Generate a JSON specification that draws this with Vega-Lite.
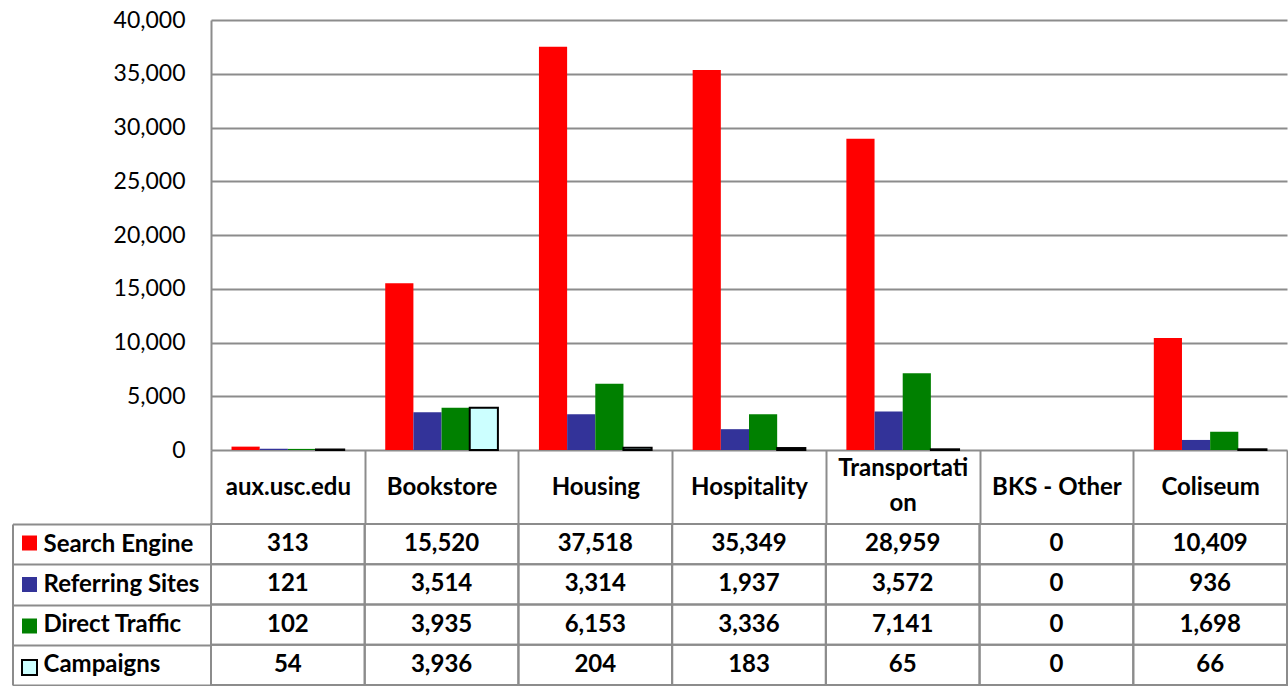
{
  "$schema": "https://vega.github.io/schema/vega-lite/v6.json",
  "padding": {"left": 11, "top": 9, "right": 0, "bottom": 0},
  "background": "white",
  "config": {"font": "Lato", "view": {"stroke": null}},
  "data": {"values": [
    {"category": "aux.usc.edu", "series": "Search Engine", "value": 313},
    {"category": "aux.usc.edu", "series": "Referring Sites", "value": 121},
    {"category": "aux.usc.edu", "series": "Direct Traffic", "value": 102},
    {"category": "aux.usc.edu", "series": "Campaigns", "value": 54},
    {"category": "Bookstore", "series": "Search Engine", "value": 15520},
    {"category": "Bookstore", "series": "Referring Sites", "value": 3514},
    {"category": "Bookstore", "series": "Direct Traffic", "value": 3935},
    {"category": "Bookstore", "series": "Campaigns", "value": 3936},
    {"category": "Housing", "series": "Search Engine", "value": 37518},
    {"category": "Housing", "series": "Referring Sites", "value": 3314},
    {"category": "Housing", "series": "Direct Traffic", "value": 6153},
    {"category": "Housing", "series": "Campaigns", "value": 204},
    {"category": "Hospitality", "series": "Search Engine", "value": 35349},
    {"category": "Hospitality", "series": "Referring Sites", "value": 1937},
    {"category": "Hospitality", "series": "Direct Traffic", "value": 3336},
    {"category": "Hospitality", "series": "Campaigns", "value": 183},
    {"category": "Transportation", "series": "Search Engine", "value": 28959},
    {"category": "Transportation", "series": "Referring Sites", "value": 3572},
    {"category": "Transportation", "series": "Direct Traffic", "value": 7141},
    {"category": "Transportation", "series": "Campaigns", "value": 65},
    {"category": "BKS - Other", "series": "Search Engine", "value": 0},
    {"category": "BKS - Other", "series": "Referring Sites", "value": 0},
    {"category": "BKS - Other", "series": "Direct Traffic", "value": 0},
    {"category": "BKS - Other", "series": "Campaigns", "value": 0},
    {"category": "Coliseum", "series": "Search Engine", "value": 10409},
    {"category": "Coliseum", "series": "Referring Sites", "value": 936},
    {"category": "Coliseum", "series": "Direct Traffic", "value": 1698},
    {"category": "Coliseum", "series": "Campaigns", "value": 66}
  ]},
  "vconcat": [
    {
      "width": 1076,
      "height": 430,
      "transform": [{"filter": "datum.value > 0"}],
      "mark": {"type": "bar", "strokeWidth": 2},
      "encoding": {
        "x": {"field": "category", "type": "nominal",
              "sort": ["aux.usc.edu", "Bookstore", "Housing", "Hospitality", "Transportation", "BKS - Other", "Coliseum"],
              "scale": {"domain": ["aux.usc.edu", "Bookstore", "Housing", "Hospitality", "Transportation", "BKS - Other", "Coliseum"], "paddingInner": 0.267, "paddingOuter": 0.1335},
              "axis": null},
        "xOffset": {"field": "series", "type": "nominal",
              "scale": {"domain": ["Search Engine", "Referring Sites", "Direct Traffic", "Campaigns"], "paddingInner": 0, "paddingOuter": 0}},
        "y": {"field": "value", "type": "quantitative",
              "scale": {"domain": [0, 40000], "nice": false},
              "axis": {"title": null, "values": [0, 5000, 10000, 15000, 20000, 25000, 30000, 35000, 40000], "format": ",.0f",
                       "grid": true, "gridColor": "#8c8c8c", "gridWidth": 2, "gridOpacity": 1,
                       "domainColor": "#8c8c8c", "domainWidth": 2, "ticks": false,
                       "labelFontSize": 23, "labelColor": "black", "labelPadding": 26}},
        "fill": {"field": "series", "type": "nominal",
              "scale": {"domain": ["Search Engine", "Referring Sites", "Direct Traffic", "Campaigns"], "range": ["#ff0000", "#333399", "#008000", "#ccffff"]},
              "legend": {"title": null, "orient": "none", "legendX": -190, "legendY": 514.5, "symbolType": "square", "symbolSize": 225, "symbolStrokeWidth": 2, "rowPadding": 18.5, "padding": 0, "labelExpr": "''", "labelFontSize": 1, "symbolOpacity": 1}},
        "stroke": {"field": "series", "type": "nominal",
              "scale": {"domain": ["Search Engine", "Referring Sites", "Direct Traffic", "Campaigns"], "range": ["transparent", "transparent", "transparent", "#000000"]},
              "legend": {"title": null, "orient": "none", "legendX": -190, "legendY": 514.5, "symbolType": "square", "symbolSize": 225, "symbolStrokeWidth": 2, "rowPadding": 18.5, "padding": 0, "labelExpr": "''", "labelFontSize": 1, "symbolOpacity": 1}}
      }
    },
    {
      "width": 1076,
      "height": 161,
      "encoding": {
        "x": {"field": "category", "type": "nominal",
              "scale": {"type": "band", "domain": ["aux.usc.edu", "Bookstore", "Housing", "Hospitality", "Transportation", "BKS - Other", "Coliseum"], "paddingInner": 0, "paddingOuter": 0},
              "axis": {"orient": "top", "title": null, "tickSize": 74, "tickBand": "extent", "tickColor": "#8c8c8c", "tickWidth": 2,
                       "domain": false, "labelFontSize": 24, "labelFontWeight": "bold", "labelColor": "black",
                       "labelPadding": {"condition": {"test": "datum.value == 'Transportation'", "value": -18}, "value": -37},
                       "labelBaseline": "middle", "labelAngle": 0, "labelLineHeight": 35,
                       "labelOverlap": false, "labelLimit": 0,
                       "labelExpr": "datum.value == 'Transportation' ? ['Transportati', 'on'] : datum.value"}},
        "y": {"field": "series", "type": "nominal",
              "scale": {"type": "band", "domain": ["Search Engine", "Referring Sites", "Direct Traffic", "Campaigns"], "paddingInner": 0, "paddingOuter": 0},
              "axis": {"orient": "left", "title": null, "offset": 198.5, "tickSize": -198.5, "tickBand": "extent",
                       "tickColor": "#8c8c8c", "tickWidth": 2, "domainColor": "#8c8c8c", "domainWidth": 2,
                       "labelAlign": "left", "labelPadding": 168, "labelFontSize": 24, "labelFontWeight": "bold",
                       "labelColor": "black", "labelLimit": 0, "grid": false}}
      },
      "layer": [
        {"mark": {"type": "rect", "fill": "transparent", "stroke": "#8c8c8c", "strokeWidth": 2}},
        {"mark": {"type": "text", "fontSize": 24, "fontWeight": "bold", "baseline": "middle", "align": "center", "color": "black"},
         "encoding": {"text": {"field": "value", "type": "quantitative", "format": ","}}}
      ]
    }
  ],
  "spacing": 74,
  "bounds": "flush",
  "resolve": {"scale": {"x": "independent", "y": "independent"}, "legend": {"fill": "independent", "stroke": "independent"}}
}
